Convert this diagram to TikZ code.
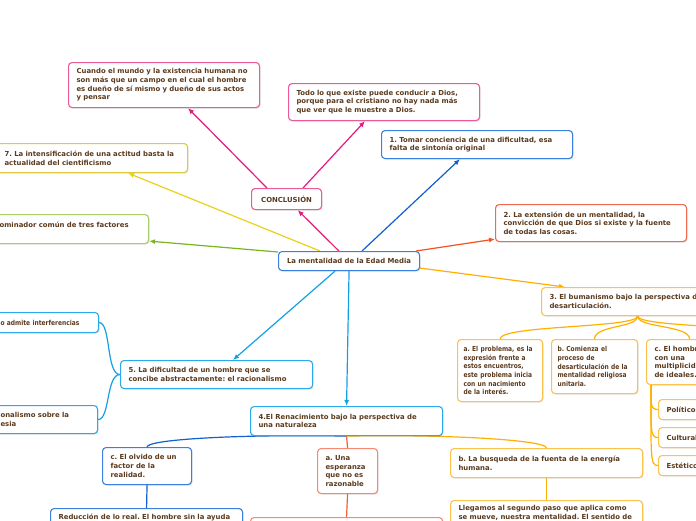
\documentclass[tikz,border=0pt]{standalone}
\usepackage{fontspec}
\setmainfont{DejaVu Sans}
\newfontfamily\narrowmap[FakeStretch=0.86]{DejaVu Sans}
\usetikzlibrary{arrows.meta,positioning,shadows}
\definecolor{MapText}{HTML}{5B3A1D}
\definecolor{PinkLine}{HTML}{E8197D}
\definecolor{PinkBox}{HTML}{EC5A97}
\definecolor{BlueLine}{HTML}{1160D0}
\definecolor{BlueBox}{HTML}{3A80E0}
\definecolor{CyanLine}{HTML}{15A0E6}
\definecolor{CyanBox}{HTML}{2AAAE8}
\definecolor{YellowLine}{HTML}{E8D11A}
\definecolor{YellowBox}{HTML}{E0CC3A}
\definecolor{GreenLine}{HTML}{7AB51D}
\definecolor{GreenBox}{HTML}{A8CF6A}
\definecolor{RedLine}{HTML}{F4511E}
\definecolor{RedBox}{HTML}{F06A50}
\definecolor{OrangeLine}{HTML}{FFB000}
\definecolor{OrangeBox}{HTML}{FCC34C}
\definecolor{SalmonLine}{HTML}{F0603A}
\definecolor{SalmonBox}{HTML}{F58A70}
\newcommand\mapfont{\fontsize{6.9}{8.7}\selectfont\bfseries\frenchspacing}
\newcommand\mapnarrow{\narrowmap\fontsize{6.9}{8.7}\selectfont\bfseries\frenchspacing}
\pgfdeclarelayer{paper}
\pgfdeclarelayer{links}
\pgfsetlayers{paper,links,main}
\tikzset{
  mapbox/.style={draw=#1, line width=1.1pt, rounded corners=3.5pt, fill=white,
    anchor=north west, align=left, text=MapText, font=\mapfont,
    inner xsep=8pt, inner ysep=5pt,
    drop shadow={shadow xshift=1pt, shadow yshift=-1pt, opacity=.2}},
  narrowtext/.style={font=\mapnarrow},
  link/.style={draw=#1, line width=1.2pt, -{Latex[length=6pt,width=5pt]}},
  branch/.style={draw=#1, line width=1.2pt}
}

\begin{document}
\begin{tikzpicture}[x=1pt,y=-1pt]
    \useasboundingbox (0,0) rectangle (696,520);
    \begin{pgfonlayer}{paper}
      \fill[white] (0,0) rectangle (696,520);
    \end{pgfonlayer}
    \node[mapbox=PinkBox, text width=175pt, minimum height=45pt] (cuando) at (68,62)
      {Cuando el mundo y la existencia humana no\\son más que un campo en el cual el hombre\\es dueño de sí mismo y dueño de sus actos\\y pensar};
    \node[mapbox=PinkBox, text width=175pt, minimum height=37pt] (todo) at (288,83)
      {Todo lo que existe puede conducir a Dios,\\porque para el cristiano no hay nada más\\que ver que le muestre a Dios.};
    \node[mapbox=BlueBox, text width=175pt, minimum height=28pt] (tomar) at (381,130)
      {1. Tomar conciencia de una dificultad, esa\\falta de sintonía original};
    \node[mapbox=YellowBox, text width=175pt, minimum height=29pt] (intens) at (-4,143)
      {7. La intensificación de una actitud basta la\\actualidad del cientificismo};
    \node[mapbox=PinkBox, text width=54pt, minimum height=21pt, align=center] (concl) at (251,188)
      {CONCLUSIÓN};
    \node[mapbox=GreenBox, text width=141pt, minimum height=29pt] (factores) at (-9,214)
      {ominador común de tres factores\\\mbox{}};
    \node[mapbox=BlueBox, text width=125pt, minimum height=19pt, align=center] (main) at (278,251)
      {La mentalidad de la Edad Media};
    \node[mapbox=RedBox, text width=175pt, minimum height=37pt] (extension) at (495,204)
      {2. La extensión de un mentalidad, la\\convicción de que Dios si existe y la fuente\\de todas las cosas.};
    \node[mapbox=OrangeBox, text width=176pt, minimum height=28pt] (bumanismo) at (541,287)
      {3. El bumanismo bajo la perspectiva de\\desarticulación.};
    \node[mapbox=OrangeBox, narrowtext, text width=73pt, inner xsep=6pt, minimum height=62pt] (problema) at (457,339)
      {a. El problema, es la\\expresión frente a\\estos encuentros,\\este problema inicia\\con un nacimiento\\de la interés.};
    \node[mapbox=OrangeBox, narrowtext, text width=74pt, inner xsep=6pt, minimum height=54pt] (comienza) at (551,339)
      {b. Comienza el\\proceso de\\desarticulación de la\\mentalidad religiosa\\unitaria.};
    \node[mapbox=OrangeBox, text width=70pt, minimum height=45pt] (hombre) at (646,339)
      {c. El hombre\\con una\\multiplicidad\\de ideales.};
    \node[mapbox=OrangeBox, text width=60pt, minimum height=20pt] (politico) at (658,399) {Político};
    \node[mapbox=OrangeBox, text width=60pt, minimum height=20pt] (cultural) at (658,427) {Cultural};
    \node[mapbox=OrangeBox, text width=60pt, minimum height=20pt] (estetico) at (658,455) {Estético};
    \node[mapbox=CyanBox, text width=176pt, minimum height=28pt] (dificultad) at (120,360)
      {5. La dificultad de un hombre que se\\concibe abstractamente: el racionalismo};
    \node[mapbox=CyanBox, narrowtext, text width=90pt, minimum height=20pt] (interf) at (-8,312)
      {o admite interferencias};
    \node[mapbox=CyanBox, text width=89pt, minimum height=28pt] (poesia) at (-8,405)
      {onalismo sobre la\\esia};
    \node[mapbox=CyanBox, text width=176pt, minimum height=29pt] (renac) at (250,406)
      {4.El Renacimiento bajo la perspectiva de\\una naturaleza};
    \node[mapbox=SalmonBox, text width=44pt, minimum height=45pt] (esperanza) at (317,448)
      {a. Una\\esperanza\\que no es\\razonable};
    \node[mapbox=SalmonBox, minimum width=192pt, minimum height=30pt] (salmonbajo) at (250,517) {};
    \node[mapbox=BlueBox, text width=73pt, minimum height=37pt] (olvido) at (102,447)
      {c. El olvido de un\\factor de la\\realidad.};
    \node[mapbox=BlueBox, text width=176pt] (reduccion) at (50,508)
      {Reducción de lo real. El hombre sin la ayuda};
    \node[mapbox=OrangeBox, text width=176pt, minimum height=29pt] (busqueda) at (450,448)
      {b. La busqueda de la fuenta de la energía\\humana.};
    \node[mapbox=OrangeBox, text width=176pt] (llegamos) at (450,500)
      {Llegamos al segundo paso que aplica como\\se mueve, nuestra mentalidad. El sentido de};
    \coordinate (masalla) at (790,339);
    \begin{pgfonlayer}{links}
      \draw[link=PinkLine] (main) -- (concl);
      \draw[link=PinkLine] ([xshift=16pt]concl.north west) -- ([xshift=120pt]cuando.south west);
      \draw[link=PinkLine] ([xshift=52pt]concl.north west) -- ([xshift=77pt]todo.south west);
      \draw[link=BlueLine] ([xshift=84pt]main.north west) -- ([xshift=79pt]tomar.south west);
      \draw[link=YellowLine] ([xshift=42pt]main.north west) -- ([xshift=132pt]intens.south west);
      \draw[link=GreenLine] ([yshift=-1pt]main.north west) -- ([yshift=3pt]factores.south east);
      \draw[link=RedLine] ([xshift=-4pt]main.north east) -- ([yshift=3pt]extension.south west);
      \draw[link=OrangeLine] ([yshift=3pt]main.south east) -- ([xshift=24pt]bumanismo.north west);
      \draw[link=CyanLine] ([xshift=57pt]main.south west) -- ([xshift=113pt]dificultad.north west);
      \draw[link=CyanLine] (main.south) -- (renac.north);
      \draw[branch=OrangeLine] (bumanismo.south) .. controls +(0,12) and +(0,-14) .. (problema.north);
      \draw[branch=OrangeLine] (bumanismo.south) .. controls +(0,12) and +(0,-14) .. (comienza.north);
      \draw[branch=OrangeLine] (bumanismo.south) .. controls +(0,12) and +(0,-14) .. (hombre.north);
      \draw[branch=OrangeLine] (bumanismo.south) .. controls +(0,12) and +(0,-14) .. (masalla);
      \draw[branch=OrangeLine] ([xshift=5pt]hombre.south west) .. controls +(0,18) and +(-8,0) .. (politico.west);
      \draw[branch=OrangeLine] ([xshift=5pt]hombre.south west) .. controls +(0,45) and +(-8,0) .. (cultural.west);
      \draw[branch=OrangeLine] ([xshift=5pt]hombre.south west) .. controls +(0,72) and +(-8,0) .. (estetico.west);
      \draw[branch=CyanLine] (dificultad.west) .. controls +(-14,0) and +(12,0) .. (interf.east);
      \draw[branch=CyanLine] (dificultad.west) .. controls +(-14,0) and +(12,0) .. (poesia.east);
      \draw[branch=BlueLine] (renac.south) .. controls +(-100,-2) and +(0,-8) .. (olvido.north);
      \draw[branch=SalmonLine] (renac.south) -- (esperanza.north);
      \draw[branch=OrangeLine] (renac.south) .. controls +(100,-2) and +(0,-8) .. (busqueda.north);
      \draw[branch=SalmonLine] (esperanza.south) -- (salmonbajo.north);
      \draw[branch=BlueLine] (olvido.south) -- (reduccion.north);
      \draw[branch=OrangeLine] (busqueda.south) -- (llegamos.north);
    \end{pgfonlayer}
  \end{tikzpicture}
\end{document}
